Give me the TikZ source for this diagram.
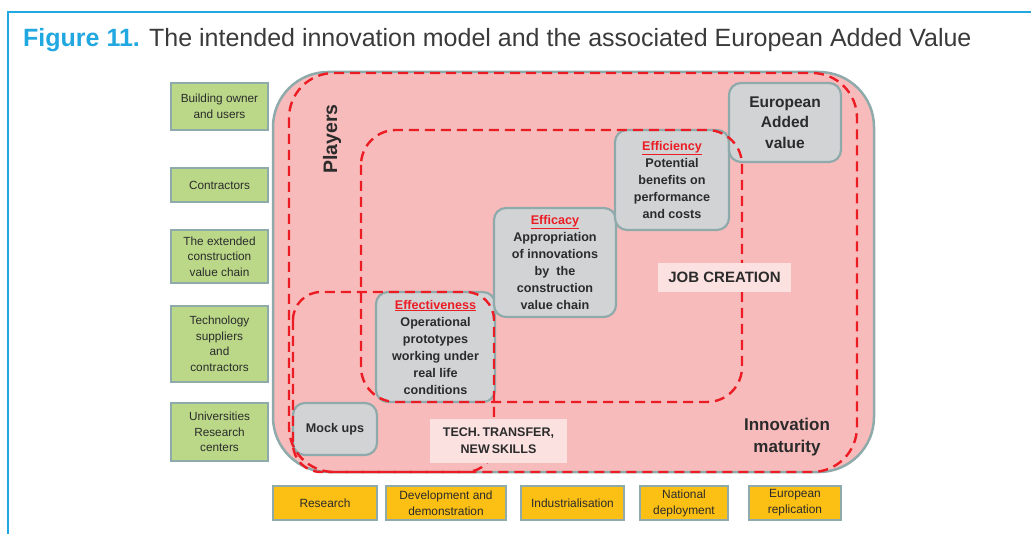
\documentclass[tikz,border=0pt]{standalone}
\usepackage{fontspec}
\setmainfont{Liberation Sans}
\definecolor{figblue}{HTML}{22A8E0}
\definecolor{titlegray}{HTML}{3A3A3A}
\definecolor{bigpink}{HTML}{F8BBBB}
\definecolor{edgegray}{HTML}{8FAAAB}
\definecolor{boxgray}{HTML}{D2D3D5}
\definecolor{leafgreen}{HTML}{BAD888}
\definecolor{phaseorange}{HTML}{FCBF13}
\definecolor{dashred}{HTML}{EC1C24}
\definecolor{labelpink}{HTML}{FCE1E1}
\definecolor{txt}{HTML}{2B2B2B}
\tikzset{
  gbox/.style={draw=edgegray, fill=boxgray, line width=2.2pt, rounded corners=12pt,
    align=center, inner sep=0pt, text=txt, font=\fontsize{12.6}{17}\selectfont\bfseries},
  greenbox/.style={draw=edgegray, fill=leafgreen, line width=2.2pt, minimum width=97pt,
    align=center, inner sep=0pt, text=txt, font=\fontsize{11.8}{15.5}\selectfont},
  phasebox/.style={draw=edgegray, fill=phaseorange, line width=2.2pt, minimum height=34pt,
    align=center, inner sep=0pt, text=txt, font=\fontsize{11.9}{16}\selectfont},
  reddash/.style={draw=dashred, line width=2.4pt, dash pattern=on 10pt off 6pt},
  lbl/.style={align=center, inner sep=0pt, text=txt},
}
\newcommand{\hd}[1]{\textcolor{dashred}{\underline{#1}}}
\begin{document}
\begin{tikzpicture}[x=1pt,y=-1pt]
\useasboundingbox (0,0) rectangle (1031,534);
% frame
\draw[figblue, line width=1.6pt] (7,12) -- (1031,12);
\draw[figblue, line width=2.4pt] (8,12) -- (8,534);
\node[anchor=base west, inner sep=0pt, text=titlegray, font=\fontsize{25}{29}\selectfont] (title) at (23,47)
  {\textcolor{figblue}{\bfseries Figure 11.} The intended innovation model and the associated European Added Value};

% big rounded area
\draw[draw=edgegray, fill=bigpink, line width=2.5pt, rounded corners=55pt] (273,72) rectangle (874,472);

% boxes
\node[gbox, minimum width=84pt, minimum height=52pt] (mock) at (335,429) {Mock ups};
\node[gbox, minimum width=119pt, minimum height=110pt] (effect) at (435.5,347)
  {\hd{Effectiveness}\\Operational\\prototypes\\working under\\real life\\conditions};
\node[gbox, minimum width=122pt, minimum height=109pt] (efficacy) at (555,262.5)
  {\hd{Efficacy}\\Appropriation\\of innovations\\by\ \ the\\construction\\value chain};
\node[gbox, minimum width=114pt, minimum height=100pt] (effic) at (672,180)
  {\hd{Efficiency}\\Potential\\benefits on\\performance\\and costs};
\node[gbox, minimum width=112pt, minimum height=79pt, font=\fontsize{15.5}{20.5}\selectfont\bfseries] (eav) at (785,122.5)
  {European\\Added\\value};

% dashed regions
\draw[reddash, rounded corners=45pt] (289,73) rectangle (857,472);
\draw[reddash, rounded corners=35pt] (361,130) rectangle (742,402);
\draw[reddash, rounded corners=28pt] (293,292) rectangle (494,472);

% labels
\node[lbl, rotate=90, font=\fontsize{19.5}{22}\selectfont\bfseries] (players) at (332,139) {Players};
\node[lbl, fill=labelpink, minimum width=133pt, minimum height=29pt, font=\fontsize{15}{18}\selectfont\bfseries] (job) at (724.5,277.5) {JOB CREATION};
\node[lbl, fill=labelpink, minimum width=137pt, minimum height=44pt, font=\fontsize{12.5}{17}\selectfont\bfseries] (tech) at (498.5,441) {TECH.\,TRANSFER,\\NEW\,SKILLS};
\node[lbl, font=\fontsize{17}{22}\selectfont\bfseries] (maturity) at (787,437) {Innovation\\maturity};

% players column
\node[greenbox, minimum height=47pt] (owner) at (219.5,106.5) {Building owner\\and users};
\node[greenbox, minimum height=34pt] (contr) at (219.5,185) {Contractors};
\node[greenbox, minimum height=53pt] (chain) at (219.5,256.5) {The extended\\construction\\value chain};
\node[greenbox, minimum height=76pt] (techsup) at (219.5,344) {Technology\\suppliers\\and\\contractors};
\node[greenbox, minimum height=58pt] (univ) at (219.5,432) {Universities\\Research\\centers};

% phases row
\node[phasebox, minimum width=104pt] (research) at (325,503) {Research};
\node[phasebox, minimum width=120pt] (dev) at (446,503) {Development and\\demonstration};
\node[phasebox, minimum width=103pt] (ind) at (572.5,503) {Industrialisation};
\node[phasebox, minimum width=88pt] (nat) at (684,503) {National\\deployment};
\node[phasebox, minimum width=92pt] (eur) at (795,503) {European\\replication};
\end{tikzpicture}
\end{document}
